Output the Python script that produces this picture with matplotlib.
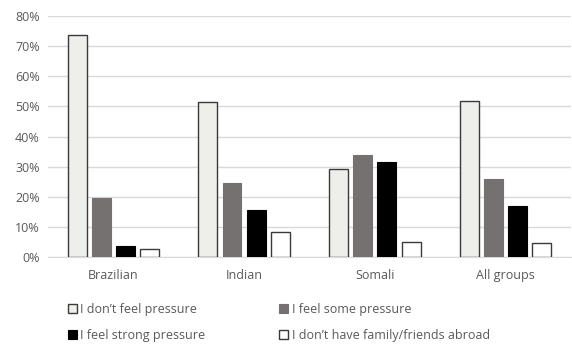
import matplotlib
matplotlib.use("Agg")
import matplotlib.pyplot as plt
import numpy as np
from matplotlib.ticker import PercentFormatter

categories = ["Brazilian", "Indian", "Somali", "All groups"]
series_names = ["I don\u2019t feel pressure", "I feel some pressure",
                "I feel strong pressure", "I don\u2019t have family/friends abroad"]
no_pressure = [73.9, 51.5, 29.2, 51.9]
some_pressure = [19.5, 24.6, 34.0, 25.9]
strong_pressure = [3.8, 15.7, 31.6, 16.9]
no_family = [2.5, 8.2, 5.0, 4.8]
y_ticks = [0, 10, 20, 30, 40, 50, 60, 70, 80]

plt.rcParams['font.family'] = ['Open Sans', 'DejaVu Sans']
text_color = "#595959"

fig = plt.figure(figsize=(5.72, 3.44), dpi=100)
ax = fig.add_axes([0.084, 0.253, 0.914, 0.7])

x = np.arange(len(categories))
w = 0.145
step = 0.185
styles = [
    dict(facecolor="#eeeeeb", edgecolor="#3a3a3a", linewidth=1.0),
    dict(facecolor="#767171", edgecolor="#767171", linewidth=0.8),
    dict(facecolor="#000000", edgecolor="#000000", linewidth=0.8),
    dict(facecolor="#ffffff", edgecolor="#3a3a3a", linewidth=1.0),
]
data = [no_pressure, some_pressure, strong_pressure, no_family]
handles = []
for i, (vals, name, st) in enumerate(zip(data, series_names, styles)):
    b = ax.bar(x + (i - 1.5) * step, vals, width=w, label=name, zorder=3, **st)
    handles.append(b)

ax.set_ylim(0, 80)
ax.set_xlim(-0.5, len(categories) - 0.5)
ax.set_yticks(y_ticks)
ax.yaxis.set_major_formatter(PercentFormatter(decimals=0))
ax.set_xticks(x)
ax.set_xticklabels(categories)
ax.grid(axis="y", color="#d9d9d9", linewidth=1.0, zorder=0)
for s in ["left", "right", "top"]:
    ax.spines[s].set_visible(False)
ax.spines["bottom"].set_color("#d9d9d9")
ax.tick_params(axis="both", length=0, colors=text_color, labelsize=9)
ax.tick_params(axis="x", pad=9)
ax.tick_params(axis="y", pad=6)

order = [0, 2, 1, 3]
leg = fig.legend([handles[i] for i in order], [series_names[i] for i in order],
                 loc="upper left", bbox_to_anchor=(0.11, 0.135), ncol=2,
                 frameon=False, fontsize=9, handlelength=0.7, handleheight=0.7,
                 handletextpad=0.3, columnspacing=5.9, labelspacing=1.05,
                 borderaxespad=0)
for t in leg.get_texts():
    t.set_color(text_color)

fig.savefig("out.png", dpi=100)
